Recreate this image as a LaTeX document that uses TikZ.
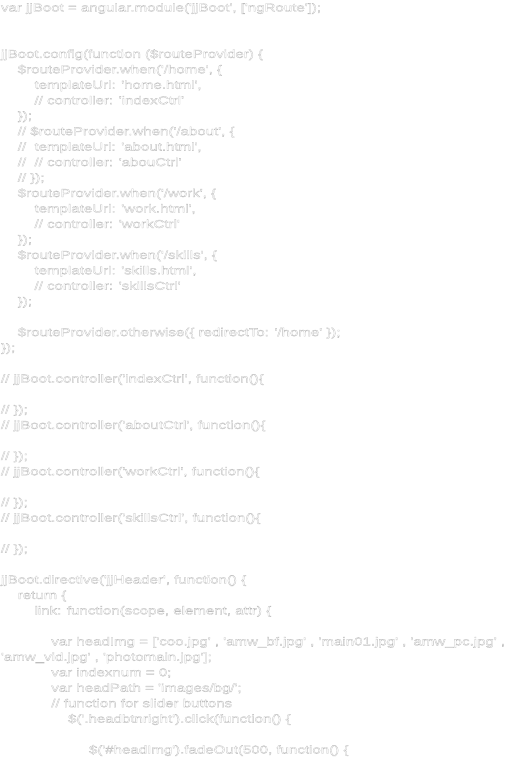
\documentclass[tikz,border=0pt]{standalone}
\usepackage{fontspec}
\newfontfamily\codefont[FakeStretch=1.31]{Liberation Sans}
\newcommand\olon{\special{pdf:literal direct 0.74 G 0.3 w 2 Tr}}
\newcommand\oloff{\special{pdf:literal direct 0 Tr}}
\tikzset{
  codeline/.style={anchor=base west, inner sep=0pt, outer sep=0pt,
    font=\codefont\fontsize{11.5bp}{14bp}\selectfont, text=white}
}
\newcommand\cl[4]{\node[codeline] (#1) at ({1+4.19*#2},{-11.5-(#3-1)*15.46}) {\olon#4\oloff};}
\begin{document}
\begin{tikzpicture}[x=1bp,y=1bp]
\fill[white] (0,0) rectangle (516,-761);
\useasboundingbox (0,0) rectangle (516,-761);
\cl{l1}{0}{1}{var jjBoot = angular.module('jjBoot', ['ngRoute']);}
\cl{l4}{0}{4}{jjBoot.config(function (\$routeProvider) \{}
\cl{l5}{4}{5}{\$routeProvider.when('/home', \{}
\cl{l6}{8}{6}{templateUrl: 'home.html',}
\cl{l7}{8}{7}{// controller: 'indexCtrl'}
\cl{l8}{4}{8}{\});}
\cl{l9}{4}{9}{// \$routeProvider.when('/about', \{}
\cl{l10}{4}{10}{//\ \ templateUrl: 'about.html',}
\cl{l11}{4}{11}{//\ \ // controller: 'abouCtrl'}
\cl{l12}{4}{12}{// \});}
\cl{l13}{4}{13}{\$routeProvider.when('/work', \{}
\cl{l14}{8}{14}{templateUrl: 'work.html',}
\cl{l15}{8}{15}{// controller: 'workCtrl'}
\cl{l16}{4}{16}{\});}
\cl{l17}{4}{17}{\$routeProvider.when('/skills', \{}
\cl{l18}{8}{18}{templateUrl: 'skills.html',}
\cl{l19}{8}{19}{// controller: 'skillsCtrl'}
\cl{l20}{4}{20}{\});}
\cl{l22}{4}{22}{\$routeProvider.otherwise(\{ redirectTo: '/home' \});}
\cl{l23}{0}{23}{\});}
\cl{l25}{0}{25}{// jjBoot.controller('indexCtrl', function()\{}
\cl{l27}{0}{27}{// \});}
\cl{l28}{0}{28}{// jjBoot.controller('aboutCtrl', function()\{}
\cl{l30}{0}{30}{// \});}
\cl{l31}{0}{31}{// jjBoot.controller('workCtrl', function()\{}
\cl{l33}{0}{33}{// \});}
\cl{l34}{0}{34}{// jjBoot.controller('skillsCtrl', function()\{}
\cl{l36}{0}{36}{// \});}
\cl{l38}{0}{38}{jjBoot.directive('jjHeader', function() \{}
\cl{l39}{4}{39}{return \{}
\cl{l40}{8}{40}{link: function(scope, element, attr) \{}
\cl{l42}{12}{42}{var headImg = ['coo.jpg' , 'amw\_bf.jpg' , 'main01.jpg' , 'amw\_pc.jpg' ,}
\cl{l43}{0}{43}{'amw\_vid.jpg' , 'photomain.jpg'];}
\cl{l44}{12}{44}{var indexnum = 0;}
\cl{l45}{12}{45}{var headPath = 'images/bg/';}
\cl{l46}{12}{46}{// function for slider buttons}
\cl{l47}{16}{47}{\$('.headbtnright').click(function() \{}
\cl{l49}{21}{49}{\$('\#headImg').fadeOut(500, function() \{}
\end{tikzpicture}
\end{document}
